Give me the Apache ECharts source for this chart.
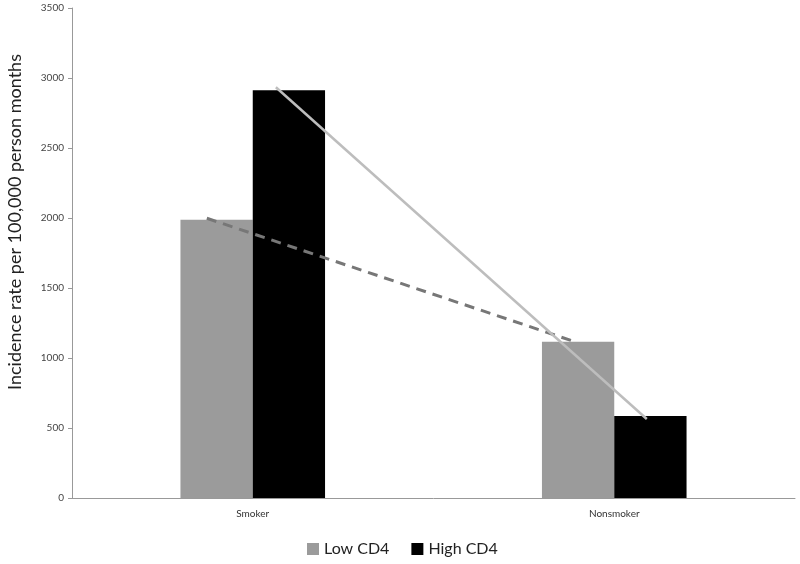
<!DOCTYPE html>
<html>
<head>
<meta charset="utf-8">
<script src="https://cdn.jsdelivr.net/npm/echarts@6/dist/echarts.min.js"></script>
<style>
  html, body { margin: 0; padding: 0; background: #fff; }
  #chart { width: 800px; height: 564px; }
</style>
</head>
<body>
<div id="chart"></div>
<script>
// categories and bar values
var categories = ['Smoker', 'Nonsmoker'];
var lowCD4 = [1988, 1116];
var highCD4 = [2912, 586];
var yTicks = [0, 500, 1000, 1500, 2000, 2500, 3000, 3500];

// drawn trend lines, x in category units (0..2 across the plot)
var dashedTrend = [[0.373, 1998], [1.396, 1112]];
var solidTrend = [[0.564, 2934], [1.590, 564]];

var fontFamily = 'Lato, "Open Sans", sans-serif';

var chart = echarts.init(document.getElementById('chart'));

var option = {
    animation: false,
    backgroundColor: '#fff',
    grid: { left: 72, right: 5, top: 8, bottom: 66 },
    legend: {
        data: ['Low CD4', 'High CD4'],
        left: 302,
        top: 536,
        itemWidth: 12,
        itemHeight: 12,
        itemGap: 22,
        icon: 'rect',
        textStyle: { fontFamily: fontFamily, fontSize: 16, color: '#222' }
    },
    xAxis: [{
        type: 'category',
        data: categories,
        axisLine: { lineStyle: { color: '#999', width: 1 } },
        axisTick: { show: false },
        axisLabel: { fontFamily: fontFamily, fontSize: 10, color: '#333', margin: 11 }
    }, {
        type: 'value',
        min: 0,
        max: 2,
        show: false
    }],
    yAxis: {
        type: 'value',
        min: yTicks[0],
        max: yTicks[yTicks.length - 1],
        interval: 500,
        axisLine: { show: true, lineStyle: { color: '#999', width: 1 } },
        axisTick: { show: true, length: 4, lineStyle: { color: '#999' } },
        splitLine: { show: false },
        axisLabel: {
            fontFamily: fontFamily,
            fontSize: 10,
            color: '#444',
            margin: 8,
            formatter: function (v) { return String(v); }
        }
    },
    series: [{
        name: 'Low CD4',
        type: 'bar',
        data: lowCD4,
        barGap: '0%',
        barCategoryGap: '60%',
        itemStyle: { color: '#9b9b9b' }
    }, {
        name: 'High CD4',
        type: 'bar',
        data: highCD4,
        barGap: '0%',
        barCategoryGap: '60%',
        itemStyle: { color: '#000' }
    }, {
        name: 'dashed trend',
        type: 'line',
        xAxisIndex: 1,
        data: dashedTrend,
        symbol: 'none',
        z: 5,
        lineStyle: { color: '#777', width: 3, type: [10, 7] }
    }, {
        name: 'solid trend',
        type: 'line',
        xAxisIndex: 1,
        data: solidTrend,
        symbol: 'none',
        z: 6,
        lineStyle: { color: '#bdbdbd', width: 2.5 }
    }],
    graphic: [{
        type: 'text',
        x: 6,
        y: 222,
        rotation: Math.PI / 2,
        style: {
            text: 'Incidence rate per 100,000 person months',
            fontFamily: fontFamily,
            fontSize: 18,
            fill: '#222',
            align: 'center',
            verticalAlign: 'top'
        }
    }]
};

chart.setOption(option);
</script>
</body>
</html>
